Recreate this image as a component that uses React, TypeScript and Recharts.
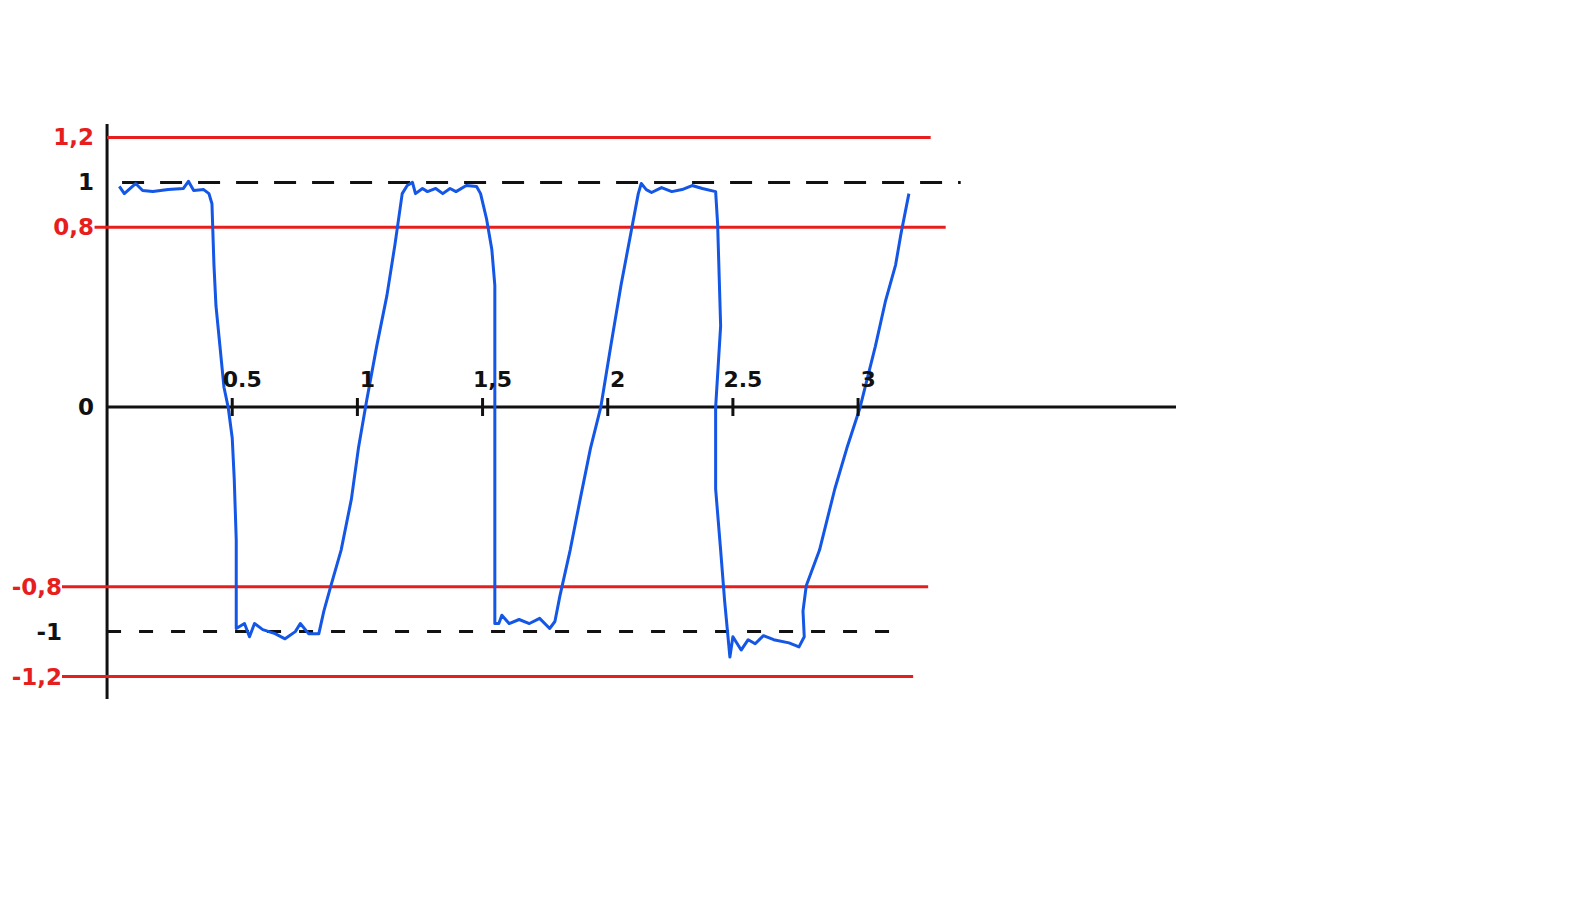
import { LineChart, Line, XAxis, YAxis, ReferenceLine, ReferenceDot } from 'recharts';

// hand sketch: clipped square-ish wave between the ±1 levels, tolerance bands at ±0.8 / ±1.2
const xTicks = [0.5, 1, 1.5, 2, 2.5, 3];
const xTickLabels = ['0.5', '1', '1,5', '2', '2.5', '3'];
const yTicks = [1.2, 1, 0.8, 0, -0.8, -1, -1.2];
const yTickLabels = ['1,2', '1', '0,8', '0', '-0,8', '-1', '-1,2'];

const redTop = [{ x: 0, y: 1.2 }, { x: 3.29, y: 1.2 }];
const redUpper = [{ x: -0.05, y: 0.8 }, { x: 3.35, y: 0.8 }];
const redLower = [{ x: -0.18, y: -0.8 }, { x: 3.28, y: -0.8 }];
const redBottom = [{ x: -0.18, y: -1.2 }, { x: 3.22, y: -1.2 }];

const dashTop = [{ x: 0.06, y: 1 }, { x: 3.41, y: 1 }];
const dashBottom = [{ x: 0, y: -1 }, { x: 3.19, y: -1 }];

// blue trace as [x, y]
const wave: [number, number][] = [
  [0.049, 0.982], [0.069, 0.95], [0.114, 0.995], [0.142, 0.964], [0.183, 0.959],
  [0.244, 0.968], [0.305, 0.973], [0.325, 1.005], [0.346, 0.964], [0.386, 0.968],
  [0.407, 0.95], [0.419, 0.905], [0.427, 0.633], [0.435, 0.451], [0.451, 0.27],
  [0.467, 0.088], [0.484, -0.002], [0.5, -0.138], [0.508, -0.32], [0.516, -0.592],
  [0.516, -0.986], [0.549, -0.964], [0.569, -1.023], [0.589, -0.964], [0.622, -0.991],
  [0.671, -1.009], [0.711, -1.032], [0.752, -1.0], [0.772, -0.964], [0.805, -1.009],
  [0.846, -1.009], [0.866, -0.909], [0.894, -0.796], [0.935, -0.637], [0.976, -0.41],
  [1.004, -0.184], [1.037, 0.029], [1.077, 0.27], [1.118, 0.497], [1.15, 0.723],
  [1.179, 0.95], [1.199, 0.986], [1.22, 1.0], [1.232, 0.95], [1.26, 0.973],
  [1.28, 0.959], [1.313, 0.973], [1.341, 0.95], [1.37, 0.973], [1.394, 0.959],
  [1.435, 0.986], [1.476, 0.982], [1.492, 0.95], [1.516, 0.837], [1.537, 0.701],
  [1.549, 0.542], [1.549, -0.002], [1.549, -0.964], [1.565, -0.964], [1.577, -0.927],
  [1.606, -0.964], [1.646, -0.946], [1.687, -0.964], [1.728, -0.941], [1.768, -0.986],
  [1.789, -0.955], [1.809, -0.841], [1.85, -0.637], [1.89, -0.41], [1.931, -0.184],
  [1.972, -0.002], [2.012, 0.27], [2.053, 0.542], [2.093, 0.778], [2.122, 0.95],
  [2.134, 0.995], [2.154, 0.968], [2.175, 0.955], [2.215, 0.977], [2.256, 0.959],
  [2.297, 0.968], [2.337, 0.986], [2.378, 0.973], [2.431, 0.959], [2.439, 0.814],
  [2.451, 0.361], [2.431, -0.002], [2.431, -0.365], [2.451, -0.637], [2.467, -0.864],
  [2.488, -1.113], [2.5, -1.023], [2.533, -1.082], [2.561, -1.036], [2.589, -1.054],
  [2.622, -1.018], [2.663, -1.036], [2.724, -1.05], [2.764, -1.068], [2.785, -1.023],
  [2.78, -0.909], [2.793, -0.796], [2.846, -0.637], [2.907, -0.365], [2.955, -0.184],
  [3.008, -0.002], [3.069, 0.27], [3.11, 0.474], [3.15, 0.633], [3.171, 0.769],
  [3.203, 0.95],
];

const RED = '#e61e1e';
const BLUE = '#1456e6';
const INK = '#111111';
const FONT = '"DejaVu Sans", sans-serif';

const waveData = wave.map(([x, y]) => ({ x, y }));

function YTick(props: any) {
  const { x, y, payload } = props;
  const i = yTicks.indexOf(payload.value);
  const red = Math.abs(payload.value) === 1.2 || Math.abs(payload.value) === 0.8;
  const dx = payload.value >= 0 ? 32 : 0;
  return (
    <text
      x={x + dx}
      y={y}
      dy={8}
      textAnchor="end"
      fill={red ? RED : INK}
      fontFamily={FONT}
      fontWeight={700}
      fontSize={23}
    >
      {yTickLabels[i]}
    </text>
  );
}

export default function App() {
  return (
    <div style={{ background: '#fff' }}>
      <LineChart
        width={1580}
        height={891}
        margin={{ top: 116, right: 412, left: 0, bottom: 200 }}
      >
        <XAxis type="number" dataKey="x" domain={[-0.18, 4.27]} hide />
        <YAxis
          type="number"
          dataKey="y"
          domain={[-1.3, 1.26]}
          ticks={yTicks}
          interval={0}
          width={54}
          axisLine={false}
          tickLine={false}
          tickSize={0}
          tickMargin={0}
          tick={<YTick />}
        />

        <ReferenceLine x={0} stroke={INK} strokeWidth={3} ifOverflow="extendDomain" />
        <ReferenceLine
          segment={[{ x: 0, y: 0 }, { x: 4.27, y: 0 }]}
          stroke={INK}
          strokeWidth={3}
        />

        <Line data={redTop} dataKey="y" stroke={RED} strokeWidth={3} dot={false} isAnimationActive={false} />
        <Line data={redUpper} dataKey="y" stroke={RED} strokeWidth={3} dot={false} isAnimationActive={false} />
        <Line data={redLower} dataKey="y" stroke={RED} strokeWidth={3} dot={false} isAnimationActive={false} />
        <Line data={redBottom} dataKey="y" stroke={RED} strokeWidth={3} dot={false} isAnimationActive={false} />

        <Line
          data={dashTop}
          dataKey="y"
          stroke={INK}
          strokeWidth={3}
          strokeDasharray="22 16"
          dot={false}
          isAnimationActive={false}
        />
        <Line
          data={dashBottom}
          dataKey="y"
          stroke={INK}
          strokeWidth={3}
          strokeDasharray="14 18"
          dot={false}
          isAnimationActive={false}
        />

        <Line
          data={waveData}
          dataKey="y"
          type="linear"
          stroke={BLUE}
          strokeWidth={3}
          strokeLinejoin="round"
          dot={false}
          isAnimationActive={false}
        />

        {xTicks.map((t, i) => (
          <ReferenceDot
            key={t}
            x={t}
            y={0}
            r={0}
            ifOverflow="visible"
            shape={(p: any) => (
              <g>
                <line x1={p.cx} y1={p.cy - 9} x2={p.cx} y2={p.cy + 9} stroke={INK} strokeWidth={3} />
                <text
                  x={p.cx + 10}
                  y={p.cy - 20}
                  textAnchor="middle"
                  fill={INK}
                  fontFamily={FONT}
                  fontWeight={700}
                  fontSize={22}
                >
                  {xTickLabels[i]}
                </text>
              </g>
            )}
          />
        ))}
      </LineChart>
    </div>
  );
}
